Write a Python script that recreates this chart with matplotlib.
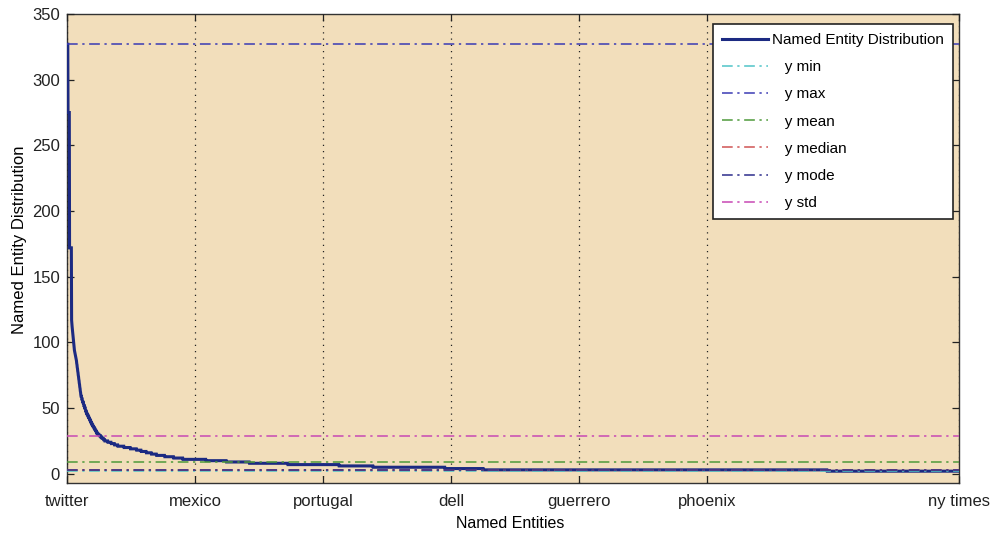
import numpy as np
import matplotlib
matplotlib.use("Agg")
import matplotlib.pyplot as plt
from matplotlib import font_manager

# ---- data: frequency table of the sorted entity counts (value, how many entities) ----
dist_values = [327, 275, 172,
               117, 114, 112, 110, 108, 106, 104, 102, 100, 98, 96, 94, 93, 92, 91, 90, 89, 88, 87,
               86, 84, 83, 81, 80, 78, 77, 75, 74, 72, 71, 69, 68, 66, 65, 63, 62, 60,
               59, 58, 57, 56, 55, 54, 53, 52, 51, 50, 49, 48, 47,
               46, 45, 44, 43, 42, 41, 40, 39,
               38, 37, 36, 35, 34, 33, 32,
               31, 30, 29, 28, 27, 26,
               25, 24, 23, 22,
               21, 20, 19,
               18, 17, 16, 15,
               14, 13, 12,
               11, 10, 9, 8, 7, 6, 5, 4, 3, 2]
dist_counts = [4, 6, 8,
               1, 1, 1, 1, 1, 1, 1, 1, 1, 1, 1, 1, 1, 1, 1, 1, 1, 1, 1,
               1, 1, 1, 1, 1, 1, 1, 1, 1, 1, 1, 1, 1, 1, 1, 1, 1, 1,
               2, 1, 2, 1, 2, 2, 1, 2, 2, 2, 1, 2, 2,
               2, 3, 2, 3, 2, 3, 2, 2,
               3, 3, 3, 3, 3, 3, 2,
               5, 5, 6, 5, 6, 5,
               12, 13, 13, 13,
               24, 25, 24,
               18, 20, 20, 20,
               32, 35, 36,
               90, 80, 90, 150, 200, 133, 281, 150, 1343, 516]

tick_positions = [0, 500, 1000, 1500, 2000, 2500, 3485]
tick_labels = ['twitter', 'mexico', 'portugal', 'dell', 'guerrero', 'phoenix', 'ny times']

stat_names = ['y min', 'y max', 'y mean', 'y median', 'y mode', 'y std']
stat_values = [2, 327, 9, 3, 3, 29]
stat_colors = ['#4fc4c8', '#3a3ab4', '#4e9a3a', '#d05454', '#2c2c8c', '#c848b4']

y_ticks = [0, 50, 100, 150, 200, 250, 300, 350]

# ---- fonts ----
names = {f.name for f in font_manager.fontManager.ttflist}
narrow = 'Liberation Sans Narrow' if 'Liberation Sans Narrow' in names else None
if narrow:
    tick_font, tick_size, leg_size = [narrow, 'DejaVu Sans'], 13.5, 13.5
else:
    tick_font, tick_size, leg_size = ['Liberation Sans', 'DejaVu Sans'], 12, 11
label_font = ['Liberation Sans', 'DejaVu Sans']

y = np.repeat(dist_values, dist_counts)
x = np.arange(len(y))

fig = plt.figure(figsize=(9.92, 5.35), dpi=100, facecolor='white')
ax = fig.add_axes([67/992, 1-483/535, (959-67)/992, (483-14)/535])
ax.set_facecolor('#f2debb')

ax.plot(x, y, color='#1c2a82', lw=2.2, label='Named Entity Distribution', zorder=3,
        solid_joinstyle='miter')
for name, val, col in zip(stat_names, stat_values, stat_colors):
    ax.axhline(val, color=col, lw=1.1, dashes=(7, 3, 1.5, 3), label='   ' + name, zorder=4)

ax.set_xlim(0, tick_positions[-1])
ax.set_ylim(-7, 350)
ax.set_xticks(tick_positions)
ax.set_xticklabels(tick_labels, family=tick_font, fontsize=tick_size)
ax.set_yticks(y_ticks)
ax.set_yticklabels([str(v) for v in y_ticks], family=tick_font, fontsize=tick_size)
ax.tick_params(direction='in', length=5, width=0.9, top=True, right=True, colors='#222222',
               labelcolor='#222222')
ax.tick_params(axis='x', pad=8)
ax.tick_params(axis='y', pad=5)
ax.xaxis.grid(True, linestyle=(0, (1, 4)), color='#222222', lw=0.9)
ax.set_axisbelow(False)
for s in ax.spines.values():
    s.set_color('#333333')
    s.set_linewidth(1.0)

ax.set_xlabel('Named Entities', family=label_font, fontsize=11.5)
ax.xaxis.set_label_coords(0.4966, (483-516)/469)
ax.set_ylabel('Named Entity Distribution', family=label_font, fontsize=12)
ax.yaxis.set_label_coords((27-67)/892, (483-240)/469)

leg = ax.legend(loc='upper right', bbox_to_anchor=((953-67)/892, (483-24)/469),
                borderaxespad=0, prop={'family': tick_font, 'size': leg_size},
                fancybox=False, framealpha=1, edgecolor='#222222', handlelength=3.0,
                handletextpad=0.26, labelspacing=0.86, borderpad=0.6)
leg.get_frame().set_linewidth(1.2)
leg.set_zorder(10)

fig.savefig('out.png', dpi=100)
